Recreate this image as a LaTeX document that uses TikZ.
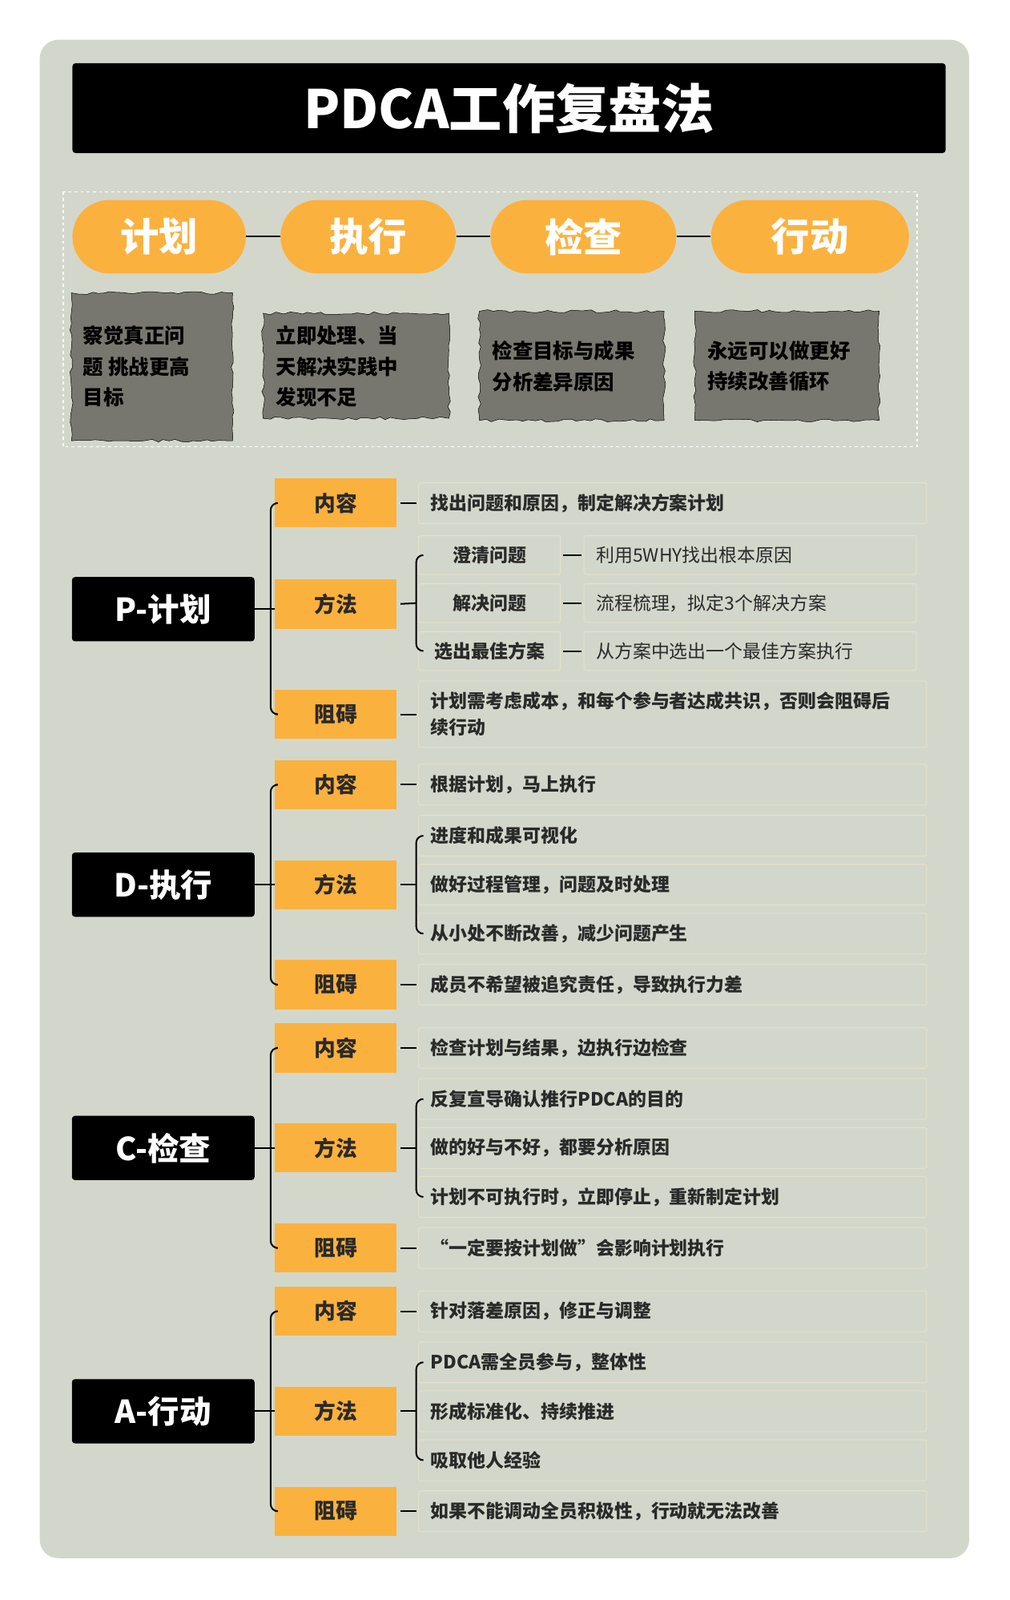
\documentclass[tikz,border=0pt]{standalone}
\usepackage{fontspec}
\setmainfont{Noto Sans CJK SC}
\usetikzlibrary{decorations.pathmorphing,calc}
\definecolor{bg}{HTML}{D3D7CB}
\definecolor{org}{HTML}{FBB13E}
\definecolor{gry}{HTML}{77776F}
\definecolor{txt}{HTML}{2A2A2A}
\definecolor{tb}{HTML}{E4E0CC}
\tikzset{
 blk/.style={fill=black,rounded corners=3,text=white,font=\fontsize{31}{34}\selectfont\bfseries,minimum width=179,minimum height=63},
 og/.style={fill=org,minimum width=119,minimum height=48,font=\fontsize{21}{24}\selectfont\bfseries,text=txt},
 tx/.style={fill=bg,draw=tb,line width=0.8,rounded corners=2,anchor=west,minimum height=40,text width=474,inner xsep=12,align=left,font=\fontsize{18}{24}\selectfont\bfseries,text=txt},
 sl/.style={fill=bg,draw=tb,line width=0.8,rounded corners=2,anchor=west,minimum height=38,minimum width=139,font=\fontsize{18}{20}\selectfont\bfseries,text=txt},
 sr/.style={fill=bg,draw=tb,line width=0.8,rounded corners=2,anchor=west,minimum height=38,text width=302,inner xsep=12,align=left,font=\fontsize{18}{20}\selectfont,text=txt},
 pill/.style={fill=org,rounded corners=36,minimum height=72,font=\fontsize{38}{42}\selectfont\bfseries,text=white},
 rough/.style={fill=gry,decorate,decoration={random steps,segment length=6,amplitude=1.5}},
 rt/.style={font=\fontsize{20}{30}\selectfont\bfseries,text=black,align=left,anchor=west},
 ln/.style={line width=1.6,black},
 br/.style={line width=1.6,black,rounded corners=7},
}
\newcommand{\pdcarow}[8]{%
 \node[blk] (#1k) at (160,#2+98) {#3};
 \node[og] (#1c) at (329,#2) {内容};
 \node[og] (#1m) at (329,#2+98) {方法};
 \node[og] (#1o) at (329,#2+196) {阻碍};
 \node[tx] (#1ct) at (410,#2) {#4};
 \node[tx] (#1m1) at (410,#2+50) {#5};
 \node[tx] (#1m2) at (410,#2+98) {#6};
 \node[tx] (#1m3) at (410,#2+146) {#7};
 \node[tx] (#1ot) at (410,#2+196) {#8};
 \draw[br] ([xshift=1]#1c.west) -- ++(-5,0) |- ([xshift=1]#1o.west);
 \draw[ln] (#1k.east) -- (#1m.west);
 \draw[ln,shorten <=4,shorten >=2] (#1c.east) -- (#1ct.west);
 \draw[ln,shorten <=4,shorten >=2] (#1m.east) -- (#1m2.west);
 \draw[ln,shorten <=4,shorten >=2] (#1o.east) -- (#1ot.west);
 \draw[br] ([xshift=5]#1m1.west) -- ++(-7,0) |- ([xshift=5]#1m3.west);
}
\begin{document}
\begin{tikzpicture}[x=1pt,y=-1pt]
\useasboundingbox (0,0) rectangle (990,1568);
\fill[white] (0,0) rectangle (990,1568);
\fill[bg,rounded corners=18] (39,39) rectangle (950,1527);
\node[fill=black,rounded corners=3,minimum width=856,minimum height=88,text=white,font=\fontsize{52}{56}\selectfont\bfseries] (title) at (499,106) {PDCA工作复盘法};
\draw[white,dashed,line width=1] (62,188) rectangle (899,438);
\node[pill,minimum width=170] (p1) at (156,232) {计划};
\node[pill,minimum width=172] (p2) at (361,232) {执行};
\node[pill,minimum width=182] (p3) at (572,232) {检查};
\node[pill,minimum width=194] (p4) at (794,232) {行动};
\draw[ln] (p1) -- (p2); \draw[ln] (p2) -- (p3); \draw[ln] (p3) -- (p4);
\draw[rough] (70,287) rectangle (228,432);
\draw[rough] (258,307) rectangle (440,410);
\draw[rough] (470,305) rectangle (651,412);
\draw[rough] (681,305) rectangle (862,412);
\node[rt] (g1) at (78,359) {察觉真正问\\题 挑战更高\\目标};
\node[rt] (g2) at (267,359) {立即处理、当\\天解决实践中\\发现不足};
\node[rt] (g3) at (479,359) {检查目标与成果\\分析差异原因};
\node[rt] (g4) at (690,359) {永远可以做更好\\持续改善循环};
% P section
\node[blk] (pk) at (160,597) {P-计划};
\node[og] (pc) at (329,493) {内容};
\node[og] (pm) at (329,592) {方法};
\node[og] (po) at (329,700) {阻碍};
\node[tx] (pct) at (410,493) {找出问题和原因，制定解决方案计划};
\node[tx,minimum height=65,font=\fontsize{18}{26}\selectfont\bfseries] (pot) at (410,700) {计划需考虑成本，和每个参与者达成共识，否则会阻碍后\\续行动};
\node[sl] (ps1) at (410,544) {澄清问题};
\node[sl] (ps2) at (410,591) {解决问题};
\node[sl] (ps3) at (410,638) {选出最佳方案};
\node[sr] (pr1) at (572,544) {利用5WHY找出根本原因};
\node[sr] (pr2) at (572,591) {流程梳理，拟定3个解决方案};
\node[sr] (pr3) at (572,638) {从方案中选出一个最佳方案执行};
\draw[br] ([xshift=1]pc.west) -- ++(-5,0) |- ([xshift=1]po.west);
\draw[ln] (pk.east) -- (pm.west |- pk.east);
\draw[ln,shorten <=4,shorten >=2] (pc.east) -- (pct.west);
\draw[ln,shorten <=4,shorten >=2] (pm.east) -- (ps2.west);
\draw[ln,shorten <=4,shorten >=2] (po.east) -- (pot.west);
\draw[br] ([xshift=5]ps1.west) -- ++(-7,0) |- ([xshift=5]ps3.west);
\foreach \a/\b in {ps1/pr1,ps2/pr2,ps3/pr3}{\draw[ln,shorten <=2,shorten >=2] (\a.east) -- (\b.west);}
\pdcarow{d}{769}{D-执行}{根据计划，马上执行}{进度和成果可视化}{做好过程管理，问题及时处理}{从小处不断改善，减少问题产生}{成员不希望被追究责任，导致执行力差}
\pdcarow{c}{1027}{C-检查}{检查计划与结果，边执行边检查}{反复宣导确认推行PDCA的目的}{做的好与不好，都要分析原因}{计划不可执行时，立即停止，重新制定计划}{“一定要按计划做”会影响计划执行}
\pdcarow{a}{1285}{A-行动}{针对落差原因，修正与调整}{PDCA需全员参与，整体性}{形成标准化、持续推进}{吸取他人经验}{如果不能调动全员积极性，行动就无法改善}
\end{tikzpicture}
\end{document}
